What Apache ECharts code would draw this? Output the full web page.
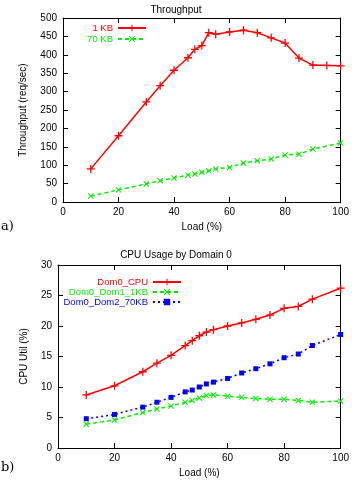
<!DOCTYPE html>
<html><head><meta charset="utf-8">
<script src="https://cdn.jsdelivr.net/npm/echarts@6/dist/echarts.min.js"></script>
<style>html,body{margin:0;padding:0;background:#fff}#c{width:352px;height:481px}</style>
</head><body><div id="c"></div>
<script>
// ---- Data ----
const tpLoad1KB  = [10,20,30,35,40,45,47.5,50,52.5,55,60,65,70,75,80,85,90,95,100];
const tp1KB      = [90,180,272,316,358,392,415,425,460,456,462,467,460,446,432,391,372,371,370];
const tpLoad70KB = [10,20,30,35,40,45,47.5,50,52.5,55,60,65,70,75,80,85,90,100];
const tp70KB     = [16,33,49,58,65,73,76,81,85,90,94,106,112,117,128,130,144,160];

const cpuLoad    = [10,20,30,35,40,45,47.5,50,52.5,55,60,65,70,75,80,85,90,100];
const dom0CPU    = [8.7,10.2,12.5,13.9,15.2,16.8,17.6,18.4,19.0,19.4,20.0,20.5,21.1,21.8,22.9,23.2,24.4,26.2];
const dom0Dom1   = [3.9,4.6,5.8,6.4,6.9,7.5,7.8,8.2,8.6,8.7,8.5,8.3,8.1,8.0,8.0,7.8,7.5,7.7];
const dom0Dom2   = [4.8,5.5,6.7,7.5,8.3,9.2,9.5,10.0,10.5,10.8,11.4,12.3,13.0,13.8,14.8,15.4,16.8,18.6];

const xTicks = {min:0, max:100, interval:20};
const yTicksTP = {min:0, max:500, interval:50};
const yTicksCPU = {min:0, max:30, interval:5};

const pairs = (xs, ys) => xs.map((x,i)=>[x, ys[i]]);

// ---- Style ----
const FONT = '"Liberation Sans", Arial, sans-serif';
const PLUS = 'path://M4.2,0h1.6v4.2h4.2v1.6h-4.2v4.2h-1.6v-4.2h-4.2v-1.6h4.2z';
const CROSS = 'path://M0,1.2L1.2,0L5,3.8L8.8,0L10,1.2L6.2,5L10,8.8L8.8,10L5,6.2L1.2,10L0,8.8L3.8,5z';
const RED='#ff0000', GREEN='#00ee00', BLUE='#0000ff';

function xAx(grid, pos, show){
  return {gridIndex:grid, type:'value', position:pos, ...xTicks,
    axisLine:{show:true, onZero:false, lineStyle:{color:'#000', width:1}},
    axisTick:{show:true, inside:true, length:5, lineStyle:{color:'#000'}},
    splitLine:{show:false},
    axisLabel:{show:show, color:'#000', fontSize:10, fontFamily:FONT, margin:5},
    name: show ? 'Load (%)' : '', nameLocation:'middle', nameGap:20,
    nameTextStyle:{color:'#000', fontSize:10, fontFamily:FONT}};
}
function yAx(grid, pos, show, ticks, name, gap){
  return {gridIndex:grid, type:'value', position:pos, ...ticks,
    axisLine:{show:true, onZero:false, lineStyle:{color:'#000', width:1}},
    axisTick:{show:true, inside:true, length:5, lineStyle:{color:'#000'}},
    splitLine:{show:false},
    axisLabel:{show:show, color:'#000', fontSize:10, fontFamily:FONT, margin:6},
    name: show ? name : '', nameLocation:'middle', nameGap:gap, nameRotate:90,
    nameTextStyle:{color:'#000', fontSize:10, fontFamily:FONT}};
}
function ser(name, xi, yi, data, color, symbol, size, type, width){
  return {name, type:'line', xAxisIndex:xi, yAxisIndex:yi, data, showSymbol:true,
    symbol, symbolSize:size, animation:false,
    lineStyle:{color, width, type},
    itemStyle:{color, borderWidth:0}};
}
function leg(name, right, top, color){
  return {data:[{name, textStyle:{color}}], orient:'horizontal', align:'right',
    right, top, itemWidth:28, itemHeight:8, itemGap:0, padding:0,
    textStyle:{fontSize:9.5, fontFamily:FONT}};
}

const chart = echarts.init(document.getElementById('c'), null, {renderer:'canvas'});
chart.setOption({
  backgroundColor:'#fff',
  animation:false,
  title:[
    {text:'Throughput', left:'center', top:0, textStyle:{fontSize:10, fontWeight:'normal', color:'#000', fontFamily:FONT}},
    {text:'CPU Usage by Domain 0', left:'center', top:245, textStyle:{fontSize:10, fontWeight:'normal', color:'#000', fontFamily:FONT}}
  ],
  grid:[
    {left:63, top:18, width:280, height:184},
    {left:58, top:265, width:285, height:183}
  ],
  xAxis:[xAx(0,'bottom',true), xAx(0,'top',false), xAx(1,'bottom',true), xAx(1,'top',false)],
  yAxis:[yAx(0,'left',true,yTicksTP,'Throughput (req/sec)',35), yAx(0,'right',false,yTicksTP,'',0),
         yAx(1,'left',true,yTicksCPU,'CPU Util (%)',29), yAx(1,'right',false,yTicksCPU,'',0)],
  legend:[
    leg('1 KB', 205, 23, RED),
    leg('70 KB', 205, 34, GREEN),
    leg('Dom0_CPU', 170, 277, RED),
    leg('Dom0_Dom1_1KB', 170, 287, GREEN),
    leg('Dom0_Dom2_70KB', 170, 297, BLUE)
  ],
  series:[
    ser('1 KB', 0, 0, pairs(tpLoad1KB, tp1KB), RED, PLUS, 8, 'solid', 1.5),
    ser('70 KB', 0, 0, pairs(tpLoad70KB, tp70KB), GREEN, CROSS, 6, [4,3], 1.5),
    ser('Dom0_CPU', 2, 2, pairs(cpuLoad, dom0CPU), RED, PLUS, 8, 'solid', 1.5),
    ser('Dom0_Dom1_1KB', 2, 2, pairs(cpuLoad, dom0Dom1), GREEN, CROSS, 6, [4,3], 1.5),
    ser('Dom0_Dom2_70KB', 2, 2, pairs(cpuLoad, dom0Dom2), BLUE, 'rect', 5, [2,3], 1.5)
  ],
  graphic:[
    {type:'text', left:1, top:220, style:{text:'a)', fontSize:13, fontFamily:'"DejaVu Serif", "Liberation Serif", serif', fill:'#000'}},
    {type:'text', left:1, top:461, style:{text:'b)', fontSize:13, fontFamily:'"DejaVu Serif", "Liberation Serif", serif', fill:'#000'}}
  ]
});
</script></body></html>
